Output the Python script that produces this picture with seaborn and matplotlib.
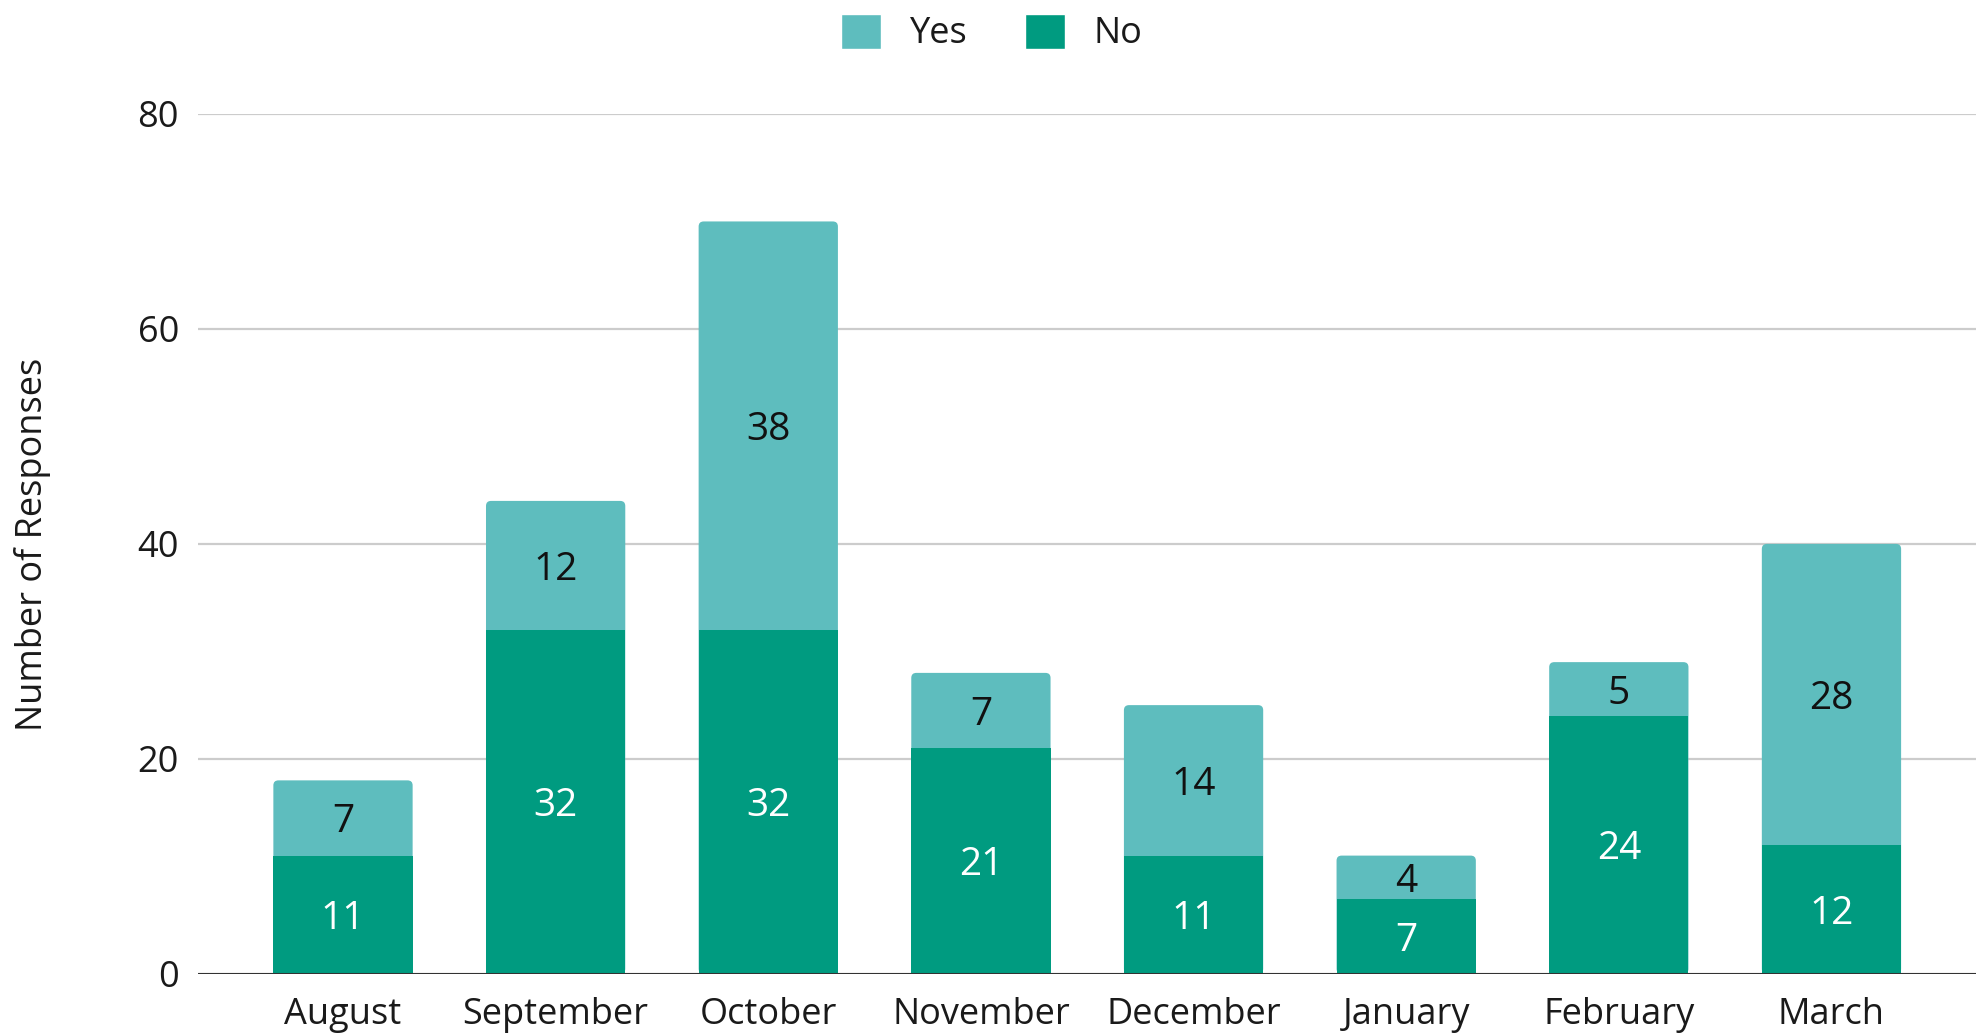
import numpy as np
import pandas as pd
import matplotlib
matplotlib.use("Agg")
import matplotlib.pyplot as plt
import seaborn as sns
from matplotlib.patches import Patch, FancyBboxPatch

# data
months = ["August", "September", "October", "November", "December", "January", "February", "March"]
no_counts = [11, 32, 32, 21, 11, 7, 24, 12]
yes_counts = [7, 12, 38, 7, 14, 4, 5, 28]

yes_color = "#5ebdbe"
no_color = "#009b80"

df = pd.DataFrame({"month": months, "No": no_counts, "Yes": yes_counts})
df["Total"] = df["No"] + df["Yes"]

sns.set_theme(style="white")
plt.rcParams["font.family"] = ["Open Sans", "DejaVu Sans"]

fig = plt.figure(figsize=(19.84, 10.36), dpi=100)
ax = fig.add_axes([0.100, 0.060, 0.896, 0.830])

# stacked bars: total in Yes colour, then No drawn over the bottom part
sns.barplot(data=df, x="month", y="Total", color=yes_color, width=0.655,
            saturation=1, linewidth=0, ax=ax, zorder=2)
n_total = len(ax.patches)
sns.barplot(data=df, x="month", y="No", color=no_color, width=0.655,
            saturation=1, linewidth=0, ax=ax, zorder=3)

# round the top corners of the total bars (bottom is hidden under No)
for p in ax.patches[:n_total]:
    rounded = FancyBboxPatch((p.get_x(), p.get_y()), p.get_width(), p.get_height(),
                             boxstyle="round,pad=0,rounding_size=0.024",
                             mutation_aspect=19.5, facecolor=yes_color,
                             edgecolor="none", zorder=2)
    p.set_visible(False)
    ax.add_patch(rounded)

# segment labels
for i, row in df.iterrows():
    ax.text(i, row["No"] / 2, str(row["No"]), ha="center", va="center_baseline",
            color="white", fontsize=28, zorder=4)
    ax.text(i, row["No"] + row["Yes"] / 2, str(row["Yes"]), ha="center",
            va="center_baseline", color="#111111", fontsize=28, zorder=4)

ax.set_ylim(0, 80)
ax.set_xlim(-0.68, len(months) - 1 + 0.68)
ax.set_yticks([0, 20, 40, 60, 80])
ax.yaxis.grid(True, color="#cccccc", linewidth=1.6, zorder=0)
ax.set_axisbelow(True)
ax.axhline(0, color="#333333", linewidth=2.2, zorder=5)
for s in ax.spines.values():
    s.set_visible(False)

ax.tick_params(axis="both", length=0, labelsize=26, colors="#1a1a1a")
ax.tick_params(axis="x", pad=17)
ax.tick_params(axis="y", pad=14)
ax.set_xlabel("")
ax.set_ylabel("Number of Responses", fontsize=26, color="#1a1a1a", labelpad=62)

handles = [Patch(facecolor=yes_color, label="Yes"), Patch(facecolor=no_color, label="No")]
fig.legend(handles=handles, loc="center", bbox_to_anchor=(0.50, 0.968), ncol=2,
           frameon=False, fontsize=26, handlelength=1.1, handleheight=1.1,
           columnspacing=1.6, handletextpad=0.8, labelcolor="#1a1a1a")

fig.savefig("out.png", dpi=100)
